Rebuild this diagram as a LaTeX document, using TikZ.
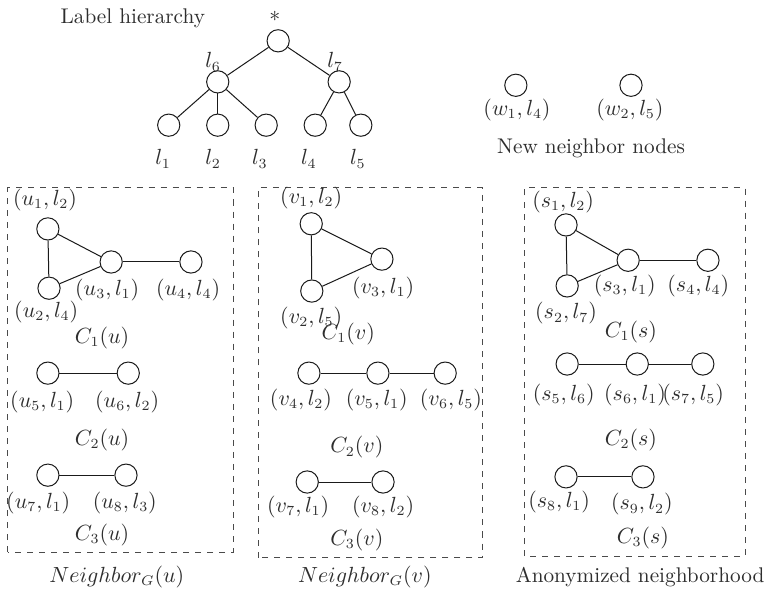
\documentclass[tikz,border=0pt]{standalone}
\usepackage{xcolor}
\usepackage{amsmath}
\definecolor{InkLine}{HTML}{1A1A1A}
\definecolor{InkText}{HTML}{2E2E2E}
\definecolor{DashGray}{HTML}{4A4A4A}

\begin{document}
\begin{tikzpicture}[
    vertex/.style={circle, draw=InkLine, fill=white, line width=0.5pt, minimum size=0.39cm, inner sep=0pt},
    pairlabel/.style={font=\fontsize{10.6}{12.7}\selectfont, text=InkText, inner sep=0pt},
    setlabel/.style={font=\fontsize{10.6}{12.7}\selectfont, text=InkText, inner sep=0pt},
    edge/.style={draw=InkLine, line width=0.5pt},
    groupbox/.style={draw=DashGray, dashed, line width=0.5pt}
]

\fill[white] (0,0) rectangle (13.456,10.386);

% label hierarchy
\node[setlabel] (hiertitle) at (2.33,10.07) {Label hierarchy};
\node[vertex] (root) at (4.88,9.67) {};
\node[vertex] (l6) at (3.82,8.95) {};
\node[vertex] (l7) at (5.95,8.95) {};
\node[vertex] (l1) at (2.96,8.19) {};
\node[vertex] (l2) at (3.82,8.19) {};
\node[vertex] (l3) at (4.67,8.19) {};
\node[vertex] (l4) at (5.53,8.19) {};
\node[vertex] (l5) at (6.33,8.19) {};
\node[pairlabel] (rootlab) at (4.82,10.09) {$*$};
\node[pairlabel] (l6lab) at (3.74,9.30) {$l_6$};
\node[pairlabel] (l7lab) at (5.88,9.30) {$l_7$};
\node[pairlabel] (l1lab) at (2.86,7.60) {$l_1$};
\node[pairlabel] (l2lab) at (3.74,7.60) {$l_2$};
\node[pairlabel] (l3lab) at (4.56,7.60) {$l_3$};
\node[pairlabel] (l4lab) at (5.42,7.60) {$l_4$};
\node[pairlabel] (l5lab) at (6.28,7.60) {$l_5$};
\draw[edge] (root) -- (l6);
\draw[edge] (root) -- (l7);
\draw[edge] (l6) -- (l1);
\draw[edge] (l6) -- (l2);
\draw[edge] (l6) -- (l3);
\draw[edge] (l7) -- (l4);
\draw[edge] (l7) -- (l5);

% new neighbor nodes
\node[vertex] (w1) at (9.05,8.89) {};
\node[vertex] (w2) at (11.07,8.89) {};
\node[pairlabel] at (9.07,8.46) {$(w_1,l_4)$};
\node[pairlabel] at (11.05,8.46) {$(w_2,l_5)$};
\node[setlabel] (newtitle) at (10.37,7.79) {New neighbor nodes};

% Neighbor_G(u)
\draw[groupbox] (0.14,0.70) rectangle (4.09,7.09);
\node[vertex] (u1) at (0.84,6.37) {};
\node[vertex] (u2) at (0.86,5.33) {};
\node[vertex] (u3) at (1.95,5.79) {};
\node[vertex] (u4) at (3.35,5.79) {};
\node[vertex] (u5) at (0.84,3.84) {};
\node[vertex] (u6) at (2.25,3.84) {};
\node[vertex] (u7) at (0.84,2.05) {};
\node[vertex] (u8) at (2.21,2.05) {};
\draw[edge] (u1) -- (u2);
\draw[edge] (u1) -- (u3);
\draw[edge] (u2) -- (u3);
\draw[edge] (u3) -- (u4);
\draw[edge] (u5) -- (u6);
\draw[edge] (u7) -- (u8);
\node[pairlabel] at (0.79,6.88) {$(u_1,l_2)$};
\node[pairlabel] at (0.81,4.91) {$(u_2,l_4)$};
\node[pairlabel] at (1.88,5.30) {$(u_3,l_1)$};
\node[pairlabel] at (3.30,5.30) {$(u_4,l_4)$};
\node[pairlabel] at (1.79,4.46) {$C_1(u)$};
\node[pairlabel] at (0.74,3.33) {$(u_5,l_1)$};
\node[pairlabel] at (2.23,3.33) {$(u_6,l_2)$};
\node[pairlabel] at (1.79,2.67) {$C_2(u)$};
\node[pairlabel] at (0.67,1.56) {$(u_7,l_1)$};
\node[pairlabel] at (2.19,1.56) {$(u_8,l_3)$};
\node[pairlabel] at (1.79,1.00) {$C_3(u)$};
\node[setlabel] at (2.05,0.26) {$Neighbor_G(u)$};

% Neighbor_G(v)
\draw[groupbox] (4.53,0.60) rectangle (8.46,7.09);
\node[vertex] (v1) at (5.46,6.46) {};
\node[vertex] (v2) at (5.47,5.28) {};
\node[vertex] (v3) at (6.70,5.84) {};
\node[vertex] (v4) at (5.42,3.84) {};
\node[vertex] (v5) at (6.63,3.84) {};
\node[vertex] (v6) at (7.81,3.84) {};
\node[vertex] (v7) at (5.39,1.93) {};
\node[vertex] (v8) at (6.72,1.93) {};
\draw[edge] (v1) -- (v2);
\draw[edge] (v1) -- (v3);
\draw[edge] (v2) -- (v3);
\draw[edge] (v4) -- (v5);
\draw[edge] (v5) -- (v6);
\draw[edge] (v7) -- (v8);
\node[pairlabel] at (5.46,6.91) {$(v_1,l_2)$};
\node[pairlabel] at (5.46,4.81) {$(v_2,l_5)$};
\node[pairlabel] at (6.72,5.33) {$(v_3,l_1)$};
\node[pairlabel] at (6.11,4.53) {$C_1(v)$};
\node[pairlabel] at (5.28,3.37) {$(v_4,l_2)$};
\node[pairlabel] at (6.61,3.37) {$(v_5,l_1)$};
\node[pairlabel] at (7.91,3.37) {$(v_6,l_5)$};
\node[pairlabel] at (6.26,2.54) {$C_2(v)$};
\node[pairlabel] at (5.23,1.49) {$(v_7,l_1)$};
\node[pairlabel] at (6.72,1.49) {$(v_8,l_2)$};
\node[pairlabel] at (6.26,0.91) {$C_3(v)$};
\node[setlabel] at (6.40,0.26) {$Neighbor_G(v)$};

% anonymized neighborhood
\draw[groupbox] (9.21,0.63) rectangle (13.07,7.09);
\node[vertex] (s1) at (9.93,6.44) {};
\node[vertex] (s2) at (9.95,5.37) {};
\node[vertex] (s3) at (11.02,5.82) {};
\node[vertex] (s4) at (12.42,5.82) {};
\node[vertex] (s5) at (9.95,4.00) {};
\node[vertex] (s6) at (11.18,4.00) {};
\node[vertex] (s7) at (12.33,4.00) {};
\node[vertex] (s8) at (9.93,2.02) {};
\node[vertex] (s9) at (11.28,2.02) {};
\draw[edge] (s1) -- (s2);
\draw[edge] (s1) -- (s3);
\draw[edge] (s2) -- (s3);
\draw[edge] (s3) -- (s4);
\draw[edge] (s5) -- (s6);
\draw[edge] (s6) -- (s7);
\draw[edge] (s8) -- (s9);
\node[pairlabel] at (9.88,6.84) {$(s_1,l_2)$};
\node[pairlabel] at (9.93,4.89) {$(s_2,l_7)$};
\node[pairlabel] at (10.96,5.37) {$(s_3,l_1)$};
\node[pairlabel] at (12.25,5.37) {$(s_4,l_4)$};
\node[pairlabel] at (11.07,4.56) {$C_1(s)$};
\node[pairlabel] at (9.89,3.46) {$(s_5,l_6)$};
\node[pairlabel] at (11.14,3.46) {$(s_6,l_1)$};
\node[pairlabel] at (12.16,3.46) {$(s_7,l_5)$};
\node[pairlabel] at (11.07,2.67) {$C_2(s)$};
\node[pairlabel] at (9.81,1.58) {$(s_8,l_1)$};
\node[pairlabel] at (11.26,1.54) {$(s_9,l_2)$};
\node[pairlabel] at (11.28,0.95) {$C_3(s)$};
\node[setlabel] at (11.23,0.26) {Anonymized neighborhood};

\end{tikzpicture}
\end{document}
